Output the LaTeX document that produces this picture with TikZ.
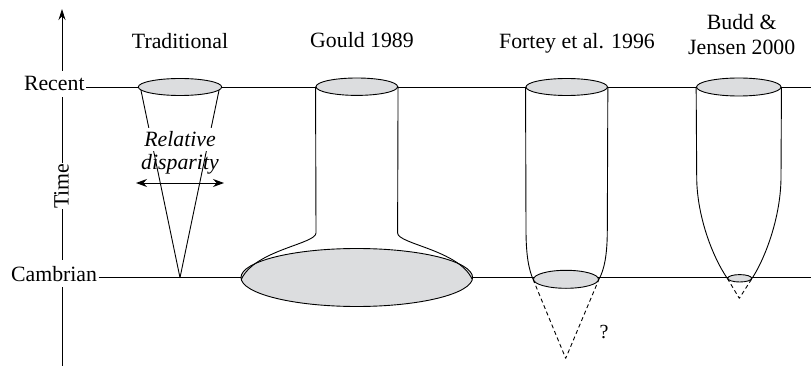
\documentclass[tikz,border=0pt]{standalone}
\usepackage{fontspec}
\setmainfont{Liberation Serif}
\usetikzlibrary{arrows.meta,shapes.geometric}
\definecolor{disc}{RGB}{220,221,223}
\begin{document}
\begin{tikzpicture}[x=1pt,y=-1pt,line width=0.9pt,line join=round,
  lab/.style={font=\fontsize{21.8}{26}\selectfont, inner sep=0pt},
  itlab/.style={lab, font=\fontsize{21.8}{26}\selectfont\itshape},
  masklab/.style={lab, fill=white, inner xsep=0.5pt, inner ysep=6pt},
  discshape/.style={ellipse, draw, fill=disc, inner sep=0pt},
  dashline/.style={dash pattern=on 4pt off 3pt}]
\useasboundingbox (0,0) rectangle (811,366);
% time axis
\coordinate (axbot) at (62,366);
\coordinate (axtop) at (62,9);
\draw[-{Stealth[length=11pt,width=7pt]}] (axbot) -- (axtop);
% time lines
\coordinate (rstart) at (86,87);
\coordinate (rend) at (811,87);
\coordinate (cstart) at (98.5,277.7);
\coordinate (cend) at (811,277.7);
\draw (rstart) -- (rend);
\draw (cstart) -- (cend);
% axis labels
\node[masklab, anchor=base east] (recent) at (85.5,91) {Recent};
\node[masklab, anchor=base east] (cambrian) at (98,281) {Cambrian};
\node[lab, fill=white, inner xsep=0pt, inner ysep=8pt, rotate=90, anchor=base] (time) at (68.5,186) {Time};
% titles
\node[lab, anchor=base] (t1) at (180,48.3) {Traditional};
\node[lab, anchor=base] (t2) at (362,47.5) {Gould 1989};
\node[lab, anchor=base] (t3) at (577,48.3) {Fortey et al. 1996};
\node[lab, anchor=base] (t4a) at (741.7,30) {Budd \&};
\node[lab, anchor=base] (t4b) at (741.7,55) {Jensen 2000};

% ---------- Traditional ----------
\coordinate (apex1) at (180,277.7);
\node[itlab, anchor=base] (disp) at (180,170) {disparity};
\draw (140.5,88) coordinate (tl) -- (apex1) -- (219.5,88) coordinate (tr);
\node[itlab, anchor=base, fill=white, inner sep=4pt] (rel) at (180,147) {Relative};
\node[discshape, minimum width=83.4pt, minimum height=17pt] (e1) at (180,87) {};
\coordinate (dl) at (136,183);
\coordinate (dr) at (224,183);
\draw[{Stealth[length=11pt,width=8pt]}-{Stealth[length=11pt,width=8pt]}] (dl) -- (dr);

% ---------- Gould ----------
\node[discshape, minimum width=231.6pt, minimum height=58pt] (e2b) at (356.8,277.5) {};
\node[discshape, minimum width=81.6pt, minimum height=17.4pt] (e2t) at (356.8,86.7) {};
\coordinate (g1) at (316,233);
\coordinate (g2) at (397.6,233);
\draw (e2t.west) -- (g1) .. controls (316,244) and (255,250) .. ([xshift=1pt,yshift=-1.5pt]e2b.west);
\draw (e2t.east) -- (g2) .. controls (397.6,244) and (458.6,250) .. ([xshift=-1pt,yshift=-1.5pt]e2b.east);

% ---------- Fortey ----------
\node[discshape, minimum width=81.4pt, minimum height=17pt] (e3t) at (566.7,87) {};
\node[discshape, minimum width=65pt, minimum height=18pt] (e3b) at (566,279.3) {};
\coordinate (f1) at (526,230);
\coordinate (f2) at (607.3,230);
\draw (e3t.west) -- (f1) .. controls (526,256) and (529,270) .. (e3b.west);
\draw (e3t.east) -- (f2) .. controls (607.3,256) and (604,270) .. (e3b.east);
\coordinate (apex3) at (565.7,358.3);
\draw[dashline] (e3b.west) -- (apex3) -- (e3b.east);
\node[lab, anchor=base, font=\fontsize{20}{22}\selectfont] (q) at (604,338.5) {?};

% ---------- Budd & Jensen ----------
\node[discshape, minimum width=84.4pt, minimum height=18pt] (e4t) at (738.8,87) {};
\node[discshape, minimum width=24pt, minimum height=7.4pt] (e4b) at (739.7,278.3) {};
\coordinate (b1) at (696.7,176.7);
\coordinate (b2) at (781,176.7);
\draw (e4t.west) -- (b1) .. controls (696.7,215) and (712,256) .. (e4b.west);
\draw (e4t.east) -- (b2) .. controls (781,215) and (766.4,256) .. (e4b.east);
\coordinate (apex4) at (739.3,298.3);
\draw[dashline] (e4b.west) -- (apex4) -- (e4b.east);
\end{tikzpicture}
\end{document}
